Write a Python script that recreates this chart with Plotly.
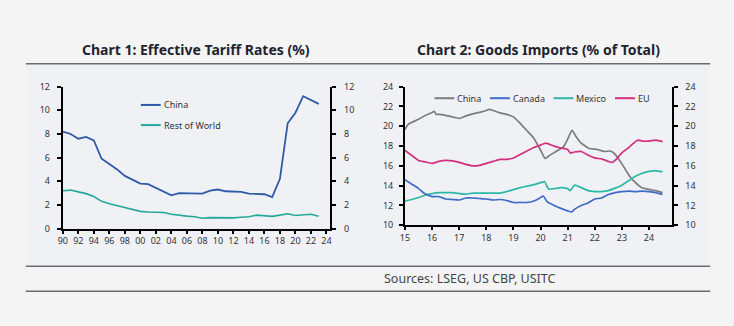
import plotly.graph_objects as go

# ---- Chart 1: effective tariff rates (%), annual ----
tariff_years = list(range(1990, 2024))
tariff_china = [8.2, 8.0, 7.6, 7.75, 7.45, 5.9, 5.45, 5.0, 4.45, 4.1, 3.8, 3.75,
                3.45, 3.15, 2.8, 3.0, 3.0, 3.0, 2.95, 3.2, 3.3, 3.15, 3.1, 3.1,
                2.95, 2.95, 2.9, 2.65, 4.2, 8.9, 9.8, 11.2, 10.9, 10.55]
tariff_row = [3.2, 3.25, 3.1, 2.95, 2.7, 2.3, 2.1, 1.95, 1.8, 1.6, 1.45, 1.4,
              1.4, 1.35, 1.2, 1.1, 1.05, 1.0, 0.87, 0.92, 0.92, 0.87, 0.9, 0.95,
              1.0, 1.13, 1.1, 1.03, 1.13, 1.25, 1.1, 1.13, 1.2, 1.03]
tariff_tick_years = list(range(1990, 2025, 2))

# ---- Chart 2: goods imports (% of total), decimal-year time stamps ----
china_t = [2015.0, 2015.1, 2015.25, 2015.5, 2015.75, 2016.0, 2016.08, 2016.15, 2016.25,
           2016.5, 2016.75, 2017.0, 2017.25, 2017.5, 2017.75, 2018.0, 2018.1, 2018.25,
           2018.5, 2018.75, 2019.0, 2019.25, 2019.5, 2019.75, 2020.0, 2020.17, 2020.3,
           2020.6, 2020.85, 2021.0, 2021.16, 2021.3, 2021.5, 2021.8, 2022.1, 2022.35,
           2022.55, 2022.68, 2022.8, 2023.0, 2023.3, 2023.5, 2023.7, 2024.0, 2024.25, 2024.5]
china_share = [19.66, 20.15, 20.4, 20.7, 21.1, 21.4, 21.5, 21.2, 21.2,
               21.1, 20.95, 20.8, 21.05, 21.25, 21.4, 21.6, 21.7, 21.6,
               21.35, 21.2, 20.95, 20.3, 19.55, 18.8, 17.6, 16.75, 17.0,
               17.5, 17.95, 18.7, 19.6, 19.0, 18.3, 17.75, 17.65, 17.45,
               17.5, 17.35, 17.0, 16.2, 14.9, 14.3, 13.85, 13.62, 13.5, 13.3]

canada_t = [2015.0, 2015.25, 2015.5, 2015.75, 2016.0, 2016.25, 2016.5, 2016.75, 2017.0,
            2017.25, 2017.5, 2017.75, 2018.0, 2018.25, 2018.5, 2018.75, 2019.0, 2019.25,
            2019.5, 2019.75, 2020.0, 2020.1, 2020.25, 2020.5, 2020.75, 2021.0, 2021.15,
            2021.25, 2021.5, 2021.75, 2022.0, 2022.25, 2022.5, 2022.75, 2023.0, 2023.25,
            2023.5, 2023.75, 2024.0, 2024.25, 2024.5]
canada_share = [14.6, 14.15, 13.7, 13.15, 12.9, 12.9, 12.65, 12.6, 12.55,
                12.75, 12.75, 12.7, 12.65, 12.55, 12.6, 12.5, 12.3, 12.3,
                12.3, 12.45, 12.8, 12.95, 12.35, 12.0, 11.7, 11.45, 11.35,
                11.6, 12.0, 12.25, 12.65, 12.75, 13.1, 13.3, 13.4, 13.45,
                13.4, 13.45, 13.4, 13.3, 13.1]

mexico_t = [2015.0, 2015.25, 2015.5, 2015.75, 2016.0, 2016.25, 2016.5, 2016.75, 2017.0,
            2017.25, 2017.5, 2017.75, 2018.0, 2018.25, 2018.5, 2018.75, 2019.0, 2019.25,
            2019.5, 2019.75, 2020.0, 2020.15, 2020.3, 2020.5, 2020.75, 2021.0, 2021.1,
            2021.25, 2021.5, 2021.75, 2022.0, 2022.25, 2022.5, 2022.75, 2023.0, 2023.25,
            2023.5, 2023.75, 2024.0, 2024.25, 2024.5]
mexico_share = [12.45, 12.6, 12.8, 13.05, 13.2, 13.3, 13.3, 13.3, 13.2,
                13.15, 13.25, 13.25, 13.25, 13.25, 13.25, 13.4, 13.6, 13.8,
                13.95, 14.1, 14.3, 14.4, 13.65, 13.7, 13.8, 13.7, 13.5,
                14.05, 13.8, 13.5, 13.4, 13.4, 13.5, 13.75, 14.05, 14.5,
                14.95, 15.25, 15.45, 15.5, 15.4]

eu_t = [2015.0, 2015.25, 2015.5, 2015.75, 2016.0, 2016.25, 2016.5, 2016.75, 2017.0,
        2017.25, 2017.5, 2017.75, 2018.0, 2018.25, 2018.5, 2018.75, 2019.0, 2019.25,
        2019.5, 2019.75, 2020.0, 2020.2, 2020.5, 2020.75, 2021.0, 2021.1, 2021.25,
        2021.5, 2021.75, 2022.0, 2022.25, 2022.5, 2022.65, 2022.75, 2023.0, 2023.25,
        2023.5, 2023.6, 2023.75, 2024.0, 2024.25, 2024.5]
eu_share = [17.55, 17.05, 16.55, 16.4, 16.25, 16.45, 16.55, 16.5, 16.35,
            16.15, 16.0, 16.05, 16.25, 16.45, 16.65, 16.65, 16.8, 17.15,
            17.5, 17.85, 18.1, 18.3, 18.0, 17.8, 17.65, 17.3, 17.4,
            17.45, 17.1, 16.8, 16.7, 16.45, 16.35, 16.55, 17.3, 17.85,
            18.45, 18.6, 18.5, 18.5, 18.6, 18.45]
imports_tick_years = list(range(2015, 2025))

W, H = 734, 326
PAGE_BG = "#f4f4f4"
PANEL_BG = "#f0f1f5"
RULE = "#6b6b76"
TICK_FONT = dict(family="Noto Sans", size=9, color="#333333")

COL_CHINA1 = "#2f5aa8"
COL_ROW = "#23a89b"
COL_CHINA2 = "#7c7c7c"
COL_CANADA = "#3e6bc6"
COL_MEXICO = "#2cb8a6"
COL_EU = "#d2307f"


def fx(px):
    return px / W


def fy(py):
    return 1 - py / H


fig = go.Figure()

# chart 1 lines
fig.add_trace(go.Scatter(x=tariff_years, y=tariff_china, mode="lines",
                         line=dict(color=COL_CHINA1, width=1.8),
                         xaxis="x", yaxis="y", showlegend=False))
fig.add_trace(go.Scatter(x=tariff_years, y=tariff_row, mode="lines",
                         line=dict(color=COL_ROW, width=1.6),
                         xaxis="x", yaxis="y", showlegend=False))
# mirrored right-hand scale
fig.add_trace(go.Scatter(x=tariff_years, y=tariff_row, mode="lines",
                         line=dict(width=0), opacity=0, hoverinfo="skip",
                         xaxis="x", yaxis="y2", showlegend=False))

# chart 2 lines
for t, v, c in [(china_t, china_share, COL_CHINA2),
                (eu_t, eu_share, COL_EU),
                (mexico_t, mexico_share, COL_MEXICO),
                (canada_t, canada_share, COL_CANADA)]:
    fig.add_trace(go.Scatter(x=t, y=v, mode="lines",
                             line=dict(color=c, width=1.7, shape="spline", smoothing=0.5),
                             xaxis="x2", yaxis="y3", showlegend=False))
fig.add_trace(go.Scatter(x=canada_t, y=canada_share, mode="lines",
                         line=dict(width=0), opacity=0, hoverinfo="skip",
                         xaxis="x2", yaxis="y4", showlegend=False))

axis_common = dict(showline=True, linecolor="black", linewidth=2, showgrid=False,
                   zeroline=False, ticks="outside", tickcolor="black", tickwidth=1.5,
                   tickfont=TICK_FONT)

fig.update_layout(
    width=W, height=H, margin=dict(l=0, r=0, t=0, b=0),
    paper_bgcolor=PAGE_BG, plot_bgcolor="rgba(0,0,0,0)",
    xaxis=dict(domain=[fx(58.3), fx(328)], range=[1990, 2024.5], anchor="y",
               tickvals=tariff_tick_years,
               ticktext=[f"{y % 100:02d}" for y in tariff_tick_years],
               ticklen=3, **axis_common),
    yaxis=dict(domain=[fy(230.7), fy(83)], range=[0, 12], dtick=2, anchor="x",
               ticklen=4, ticklabelstandoff=5, **axis_common),
    yaxis2=dict(overlaying="y", side="right", anchor="x", range=[0, 12], dtick=2,
                ticklen=4, ticklabelstandoff=6, **axis_common),
    xaxis2=dict(domain=[fx(403.3), fx(672)], range=[2015, 2024.83], anchor="y3",
                tickvals=imports_tick_years,
                ticktext=[f"{y % 100:02d}" for y in imports_tick_years],
                ticklen=3, **axis_common),
    yaxis3=dict(domain=[fy(227.3), fy(83)], range=[10, 24], dtick=2, anchor="x2",
                ticklen=4, ticklabelstandoff=4, **axis_common),
    yaxis4=dict(overlaying="y3", side="right", anchor="x2", range=[10, 24], dtick=2,
                ticklen=4, ticklabelstandoff=6, **axis_common),
)

shapes = [
    # plotting panel
    dict(type="rect", xref="paper", yref="paper", x0=fx(21), x1=fx(711),
         y0=fy(268), y1=fy(60), fillcolor=PANEL_BG, line=dict(width=0), layer="below"),
    # rules
    dict(type="line", xref="paper", yref="paper", x0=fx(21), x1=fx(711),
         y0=fy(59), y1=fy(59), line=dict(color=RULE, width=1.5)),
    dict(type="line", xref="paper", yref="paper", x0=fx(21), x1=fx(711),
         y0=fy(270), y1=fy(270), line=dict(color=RULE, width=1.5)),
    dict(type="line", xref="paper", yref="paper", x0=fx(21), x1=fx(711),
         y0=fy(296), y1=fy(296), line=dict(color=RULE, width=1.5)),
]

annotations = [
    dict(text="<b>Chart 1: Effective Tariff Rates (%)</b>", x=fx(193), y=fy(44),
         xref="paper", yref="paper", showarrow=False, xanchor="center", yanchor="middle",
         font=dict(family="Noto Sans", size=14, color="#1f2430")),
    dict(text="<b>Chart 2: Goods Imports (% of Total)</b>", x=fx(538), y=fy(44),
         xref="paper", yref="paper", showarrow=False, xanchor="center", yanchor="middle",
         font=dict(family="Noto Sans", size=14, color="#1f2430")),
    dict(text="Sources: LSEG, US CBP, USITC", x=fx(469), y=fy(283),
         xref="paper", yref="paper", showarrow=False, xanchor="center", yanchor="middle",
         font=dict(family="Noto Sans", size=12.5, color="#444444")),
]

# legend keys: short line + label
legend_items = [
    ("China", COL_CHINA1, 137, 102),
    ("Rest of World", COL_ROW, 137, 123),
    ("China", COL_CHINA2, 433, 95),
    ("Canada", COL_CANADA, 489, 95),
    ("Mexico", COL_MEXICO, 553, 95),
    ("EU", COL_EU, 615, 95),
]
for label, col, x0, yy in legend_items:
    shapes.append(dict(type="line", xref="paper", yref="paper", x0=fx(x0), x1=fx(x0 + 20),
                       y0=fy(yy), y1=fy(yy), line=dict(color=col, width=2)))
    annotations.append(dict(text=label, x=fx(x0 + 21), y=fy(yy), xref="paper", yref="paper",
                            showarrow=False, xanchor="left", yanchor="middle",
                            font=dict(family="Noto Sans", size=9, color="#333333")))

fig.update_layout(shapes=shapes, annotations=annotations)

fig.write_html("out.html")
